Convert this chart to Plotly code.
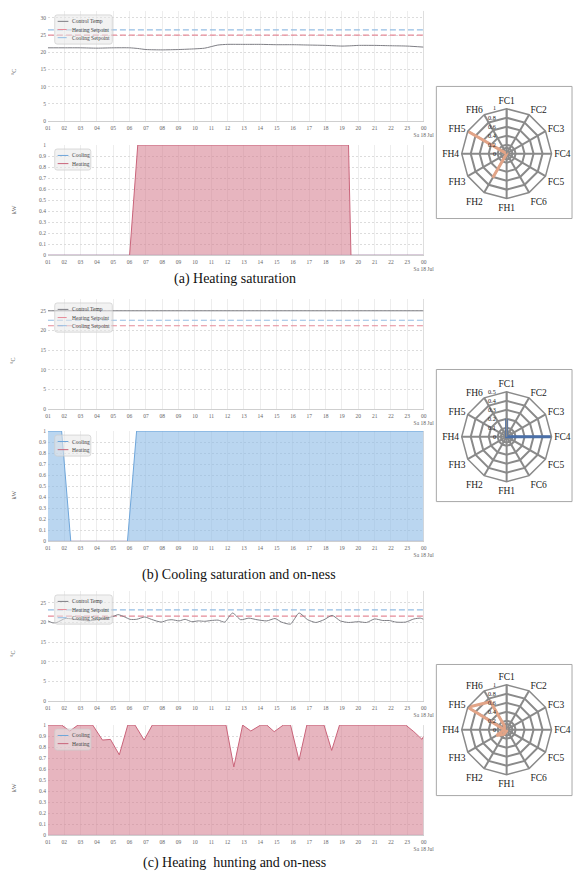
import plotly.graph_objects as go

W, H = 584, 884
SERIF = "Liberation Serif, Times New Roman, serif"

# ---------------- shared axes / labels ----------------
hours = list(range(1, 25))
hour_labels = ["%02d" % (h % 24) for h in hours]
hour_labels[-1] = "00<br>Sa 18 Jul"

zones = ["FC1", "FC2", "FC3", "FC4", "FC5", "FC6",
         "FH1", "FH2", "FH3", "FH4", "FH5", "FH6"]

# ---------------- (a) Heating saturation ----------------
a_temp_t = [1, 2, 3, 4, 5, 6, 6.5, 7, 8, 9, 10, 10.6, 11.4, 12, 13, 14, 15, 16,
            17, 18, 19, 19.6, 20, 21, 22, 23, 24]
a_temp = [21.3, 21.3, 21.3, 21.2, 21.3, 21.3, 21.1, 20.8, 20.7, 20.8, 21.0, 21.2,
          22.1, 22.3, 22.3, 22.3, 22.2, 22.2, 22.1, 22.0, 21.8, 21.9, 22.0, 22.0,
          21.9, 21.8, 21.5]
a_heat_sp = 25.0
a_cool_sp = 26.5
a_heat_t = [1, 6.0, 6.5, 19.4, 19.55, 24]
a_heat = [0, 0, 1, 1, 0, 0]
a_cool_t = [1, 24]
a_cool = [0, 0]
a_radar = [0, 0, 0, 0, 0, 0, 0, 0.62, 0, 0, 1.0, 0]

# ---------------- (b) Cooling saturation and on-ness ----------------
b_temp_t = [1, 24]
b_temp = [25.0, 25.0]
b_heat_sp = 21.2
b_cool_sp = 22.6
b_cool_t = [1, 1.84, 2.4, 5.87, 6.43, 24]
b_cool = [1, 1, 0, 0, 1, 1]
b_heat_t = [1, 24]
b_heat = [0, 0]
b_radar = [0.2, 0, 0, 0.5, 0, 0, 0, 0, 0, 0, 0, 0]

# ---------------- (c) Heating hunting and on-ness ----------------
c_temp_t = [1, 1.3, 1.55, 2.05, 2.5, 3.0, 3.5, 4.0, 4.5, 5.04, 5.3, 5.7, 6.03,
            6.43, 6.93, 7.33, 7.93, 8.33, 8.6, 9.03, 9.4, 9.8, 10.2, 10.6, 11.0,
            11.42, 11.82, 12.3, 12.8, 13.3, 13.8, 14.4, 14.9, 15.3, 15.85, 16.37,
            16.9, 17.4, 17.9, 18.4, 18.9, 19.4, 20.0, 20.5, 21.0, 21.5, 21.9,
            22.3, 22.9, 23.4, 23.8, 24.0]
c_temp = [20.4, 19.9, 20.0, 21.0, 20.9, 20.6, 20.4, 20.7, 21.0, 21.6, 22.0, 21.4,
          20.8, 20.8, 21.4, 20.8, 20.1, 20.6, 20.7, 20.4, 20.8, 20.2, 20.4, 20.3,
          20.5, 20.6, 20.1, 22.4, 20.7, 21.1, 20.7, 20.4, 21.0, 20.1, 19.6, 22.4,
          20.7, 20.0, 20.7, 21.8, 20.4, 20.0, 20.2, 20.0, 20.9, 20.5, 20.5, 20.1,
          20.1, 20.9, 21.1, 20.8]
c_heat_sp = 21.6
c_cool_sp = 23.2
c_heat_t = [1, 1.84, 2.34, 2.84, 3.74, 4.34, 4.83, 5.37, 5.89, 6.33, 6.89, 7.39,
            11.9, 12.38, 12.92, 13.42, 14.02, 14.4, 14.85, 15.41, 15.85, 16.37,
            16.85, 17.9, 18.37, 18.85, 22.9, 23.4, 23.9, 24.0]
c_heat = [1, 1, 0.946, 1, 1, 0.864, 0.87, 0.73, 1, 1, 0.864, 1, 1, 0.62, 1, 0.946,
          1, 1, 0.94, 1, 1, 0.68, 1, 1, 0.77, 1, 1, 0.94, 0.87, 0.9]
c_cool_t = [1, 24]
c_cool = [0, 0]
c_radar = [0, 0, 0, 0, 0, 0, 0.03, 0.12, 0.26, 0.05, 1.0, 0.72]

captions = ["(a) Heating saturation",
            "(b) Cooling saturation and on-ness",
            "(c) Heating  hunting and on-ness"]

# ---------------- styling ----------------
GRAY_LINE = "#7e7e84"
HEAT_SP = "#e58a98"
COOL_SP = "#94bde3"
HEAT_LINE = "#c9647a"
HEAT_FILL = "rgba(214,128,144,0.58)"
COOL_LINE = "#6fa6da"
COOL_FILL = "rgba(140,186,230,0.6)"
RADAR_HEAT = "#e2a487"
RADAR_COOL = "#4a6fa8"
RADAR_GRID = "#8a8a8a"

PLOT_L, PLOT_R = 46, 431
RADAR_CX, RADAR_R = 516, 46

panels = [
    dict(temp=(8, 119), tmax=32, tticks=[0, 5, 10, 15, 20, 25, 30], kw=(143, 254),
         ttl_y=70, kw_ttl_y=208, cap_y=278, cap_x=238,
         radar_c=151.7, box=(84, 217), rmax=1.0, color=RADAR_HEAT),
    dict(temp=(298, 409), tmax=28, tticks=[0, 5, 10, 15, 20, 25], kw=(431, 542),
         ttl_y=360.7, kw_ttl_y=495, cap_y=576, cap_x=242,
         radar_c=436.7, box=(369, 502), rmax=0.5, color=RADAR_COOL),
    dict(temp=(592, 703), tmax=28, tticks=[0, 5, 10, 15, 20, 25], kw=(727, 838),
         ttl_y=655.7, kw_ttl_y=790, cap_y=866, cap_x=237,
         radar_c=731.7, box=(666, 798), rmax=1.0, color=RADAR_HEAT),
]

data = [
    (a_temp_t, a_temp, a_heat_sp, a_cool_sp, a_heat_t, a_heat, a_cool_t, a_cool, a_radar),
    (b_temp_t, b_temp, b_heat_sp, b_cool_sp, b_heat_t, b_heat, b_cool_t, b_cool, b_radar),
    (c_temp_t, c_temp, c_heat_sp, c_cool_sp, c_heat_t, c_heat, c_cool_t, c_cool, c_radar),
]


def px(x):
    return x / W


def py(y):
    return 1 - y / H


fig = go.Figure()
shapes = []
annotations = []
layout = {}


def label(text, x, y, size, color, xanchor="center", yanchor="middle", angle=0):
    annotations.append(dict(text=text, xref="paper", yref="paper", x=px(x), y=py(y),
                            xanchor=xanchor, yanchor=yanchor, textangle=angle,
                            showarrow=False, font=dict(family=SERIF, size=size, color=color)))


def rounded_rect(x0, y0, x1, y1, r):
    rx, ry = r / W, r / H
    X0, X1 = px(x0), px(x1)
    Y0, Y1 = py(y0), py(y1)  # Y0 top, Y1 bottom
    return (f"M {X0+rx},{Y0} L {X1-rx},{Y0} Q {X1},{Y0} {X1},{Y0-ry} "
            f"L {X1},{Y1+ry} Q {X1},{Y1} {X1-rx},{Y1} L {X0+rx},{Y1} "
            f"Q {X0},{Y1} {X0},{Y1+ry} L {X0},{Y0-ry} Q {X0},{Y0} {X0+rx},{Y0} Z")


def add_legend(top_px, entries, width):
    x0 = PLOT_L + 7
    y0 = top_px + 4
    h = 6.5 + 8.2 * (len(entries) - 1) + 6.5
    shapes.append(dict(type="path", path=rounded_rect(x0, y0, x0 + width, y0 + h, 2.5),
                       xref="paper", yref="paper", fillcolor="rgba(232,232,232,0.55)",
                       line=dict(color="rgba(205,205,205,0.9)", width=0.8), layer="above"))
    for i, (name, color, dash) in enumerate(entries):
        yy = y0 + 6.5 + 8.2 * i
        shapes.append(dict(type="line", xref="paper", yref="paper",
                           x0=px(x0 + 3), x1=px(x0 + 14), y0=py(yy), y1=py(yy),
                           line=dict(color=color, width=1, dash=dash), layer="above"))
        label(name, x0 + 16, yy, 5.5, "#444", xanchor="left")


def x_axis(anchor):
    return dict(domain=[px(PLOT_L), px(PLOT_R)], anchor=anchor, range=[1, 24],
                tickmode="array", tickvals=hours, ticktext=hour_labels,
                showgrid=True, gridcolor="#ededed", gridwidth=1,
                showline=True, linecolor="#cfcfcf", linewidth=1, zeroline=False,
                ticks="", ticklabelstandoff=1,
                tickfont=dict(family=SERIF, size=5.5, color="#666"))


def y_axis(anchor, box, rng, ticks, ticktext=None):
    d = dict(domain=[py(box[1]), py(box[0])], anchor=anchor, range=rng,
             tickmode="array", tickvals=ticks,
             showgrid=True, gridcolor="#dcdcdc", gridwidth=1, griddash="2px,2px",
             showline=False, zeroline=False, ticks="", ticklabelstandoff=1,
             tickfont=dict(family=SERIF, size=5.5, color="#666"))
    if ticktext is not None:
        d["ticktext"] = ticktext
    return d


kw_ticks = [0, 0.1, 0.2, 0.3, 0.4, 0.5, 0.6, 0.7, 0.8, 0.9, 1]
kw_text = ["0", "0.1", "0.2", "0.3", "0.4", "0.5", "0.6", "0.7", "0.8", "0.9", "1"]

for i, (p, d) in enumerate(zip(panels, data)):
    temp_t, temp, heat_sp, cool_sp, heat_t, heat, cool_t, cool, radar = d
    n_t = 2 * i + 1
    n_k = 2 * i + 2
    xt = "x" if n_t == 1 else f"x{n_t}"
    yt = "y" if n_t == 1 else f"y{n_t}"
    xk, yk = f"x{n_k}", f"y{n_k}"

    # temperature chart
    fig.add_trace(go.Scatter(x=[1, 24], y=[cool_sp, cool_sp], mode="lines", xaxis=xt, yaxis=yt,
                             line=dict(color=COOL_SP, width=1.2, dash="6px,3px"),
                             showlegend=False, hoverinfo="skip"))
    fig.add_trace(go.Scatter(x=[1, 24], y=[heat_sp, heat_sp], mode="lines", xaxis=xt, yaxis=yt,
                             line=dict(color=HEAT_SP, width=1.2, dash="6px,3px"),
                             showlegend=False, hoverinfo="skip"))
    fig.add_trace(go.Scatter(x=temp_t, y=temp, mode="lines", xaxis=xt, yaxis=yt,
                             line=dict(color=GRAY_LINE, width=1, shape="spline", smoothing=0.6),
                             showlegend=False, hoverinfo="skip"))

    # power chart
    series = [(cool_t, cool, COOL_LINE, COOL_FILL), (heat_t, heat, HEAT_LINE, HEAT_FILL)]
    if i == 1:
        series = series[::-1]
    for st, sv, lc, fc in series:
        fig.add_trace(go.Scatter(x=st, y=sv, mode="lines", xaxis=xk, yaxis=yk,
                                 line=dict(color=lc, width=1), fill="tozeroy", fillcolor=fc,
                                 showlegend=False, hoverinfo="skip"))

    key_t = "xaxis" if n_t == 1 else f"xaxis{n_t}"
    key_yt = "yaxis" if n_t == 1 else f"yaxis{n_t}"
    layout[key_t] = x_axis(yt)
    layout[key_yt] = y_axis(xt, p["temp"], [0, p["tmax"]], p["tticks"])
    layout[f"xaxis{n_k}"] = x_axis(yk)
    layout[f"yaxis{n_k}"] = y_axis(xk, p["kw"], [0, 1], kw_ticks, kw_text)

    # right border of each chart
    for xa, ya in ((xt, yt), (xk, yk)):
        shapes.append(dict(type="line", xref=xa, yref=f"{ya} domain", x0=24, x1=24, y0=0, y1=1,
                           line=dict(color="#c4c4c4", width=1)))

    # legends
    add_legend(p["temp"][0], [("Control Temp", GRAY_LINE, "solid"),
                              ("Heating Setpoint", HEAT_SP, "dash"),
                              ("Cooling Setpoint", COOL_SP, "dash")], 59)
    add_legend(p["kw"][0], [("Cooling", COOL_LINE, "solid"),
                            ("Heating", HEAT_LINE, "solid")], 37)

    # axis names
    label("°C", 11, p["ttl_y"], 6, "#666", angle=-90)
    label("kW", 11, p["kw_ttl_y"], 6, "#666", angle=-90)

    # caption
    label(captions[i], p["cap_x"], p["cap_y"], 14, "#111")

    # radar chart
    polar_key = "polar" if i == 0 else f"polar{i + 1}"
    sub = "polar" if i == 0 else f"polar{i + 1}"
    cy = p["radar_c"]
    rmax = p["rmax"]
    step = 0.2 if rmax == 1.0 else 0.1
    rticks = [round(k * step, 2) for k in range(int(round(rmax / step)) + 1)]
    inner_ring = round(rmax * 0.13, 3)
    fig.add_trace(go.Scatterpolar(r=radar + radar[:1], theta=zones + zones[:1], subplot=sub,
                                  mode="lines", line=dict(color=p["color"], width=3),
                                  showlegend=False, hoverinfo="skip"))
    layout[polar_key] = dict(
        domain=dict(x=[px(RADAR_CX - RADAR_R), px(RADAR_CX + RADAR_R)],
                    y=[py(cy + RADAR_R), py(cy - RADAR_R)]),
        gridshape="linear", bgcolor="white",
        angularaxis=dict(direction="clockwise", rotation=90, type="category",
                         categoryarray=zones, showline=True, linecolor=RADAR_GRID, linewidth=1.5,
                         gridcolor=RADAR_GRID, gridwidth=1.5, ticks="",
                         tickfont=dict(family=SERIF, size=9.5, color="#1a1a1a")),
        radialaxis=dict(range=[0, rmax], tickmode="array",
                        tickvals=sorted(rticks[1:] + [inner_ring]), showticklabels=False,
                        angle=90, showline=True,
                        linecolor=RADAR_GRID, linewidth=1.5, gridcolor=RADAR_GRID, gridwidth=1.5,
                        ticks=""),
    )
    # ring values written beside the vertical spoke
    for v in rticks:
        label("%g" % v, RADAR_CX - 9, cy - v / rmax * RADAR_R, 6.2, "#222", xanchor="right")
    b0, b1 = p["box"]
    shapes.append(dict(type="rect", xref="paper", yref="paper", x0=px(444), x1=px(583),
                       y0=py(b1), y1=py(b0), line=dict(color="#a8a8a8", width=1),
                       fillcolor="rgba(0,0,0,0)", layer="below"))

fig.update_layout(width=W, height=H, margin=dict(l=0, r=0, t=0, b=0),
                  paper_bgcolor="white", plot_bgcolor="white", showlegend=False,
                  shapes=shapes, annotations=annotations,
                  font=dict(family=SERIF), **layout)

fig.write_html("out.html")
